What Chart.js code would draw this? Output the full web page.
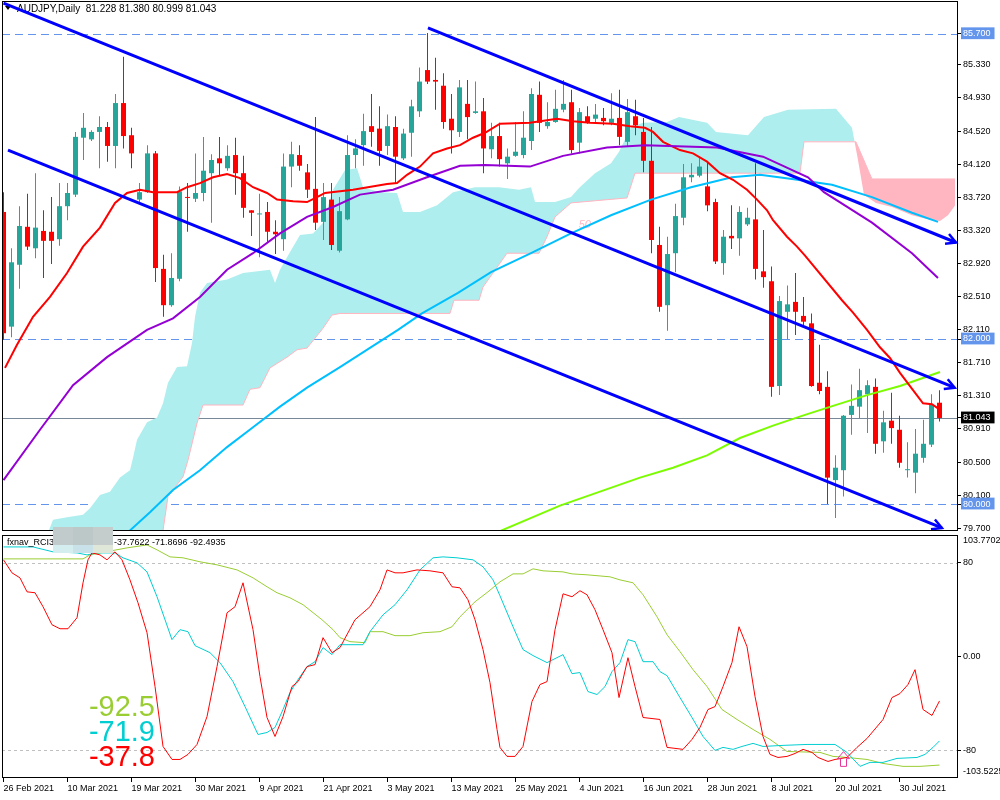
<!DOCTYPE html>
<html lang="en">
<head>
    <meta charset="UTF-8">
    <title>AUDJPY,Daily</title>
    <script src="https://cdn.jsdelivr.net/npm/chart.js"></script>
    <style>
        body {
            margin: 0;
            background: #fff;
        }

        #wrap {
            position: relative;
            width: 1000px;
            height: 800px;
            overflow: hidden;
            background: #fff;
        }

        #mainBox, #subBox {
            position: absolute;
            left: 0;
            width: 1000px;
        }

        #mainBox { top: 0; height: 532px; }
        #subBox { top: 532px; height: 268px; }

        /* grey patch over the indicator name, as in the screenshot */
        #mask {
            position: absolute;
            left: 53px;
            top: 527px;
            width: 60px;
            height: 26px;
            display: flex;
        }

        #mask div { flex: 1; }
        #mask .c1 { background: linear-gradient(#c2cbcb 0 70%, #d4eef0 70%); }
        #mask .c2 { background: linear-gradient(#bcc7c7 0 70%, #c9e1e8 70%); }
        #mask .c3 { background: linear-gradient(#c4cccc 0 70%, #dfe8d8 70%); }
    </style>
</head>
<body>
<div id="wrap">
    <div id="mainBox"><canvas id="main" width="1000" height="532"></canvas></div>
    <div id="subBox"><canvas id="sub" width="1000" height="268"></canvas></div>
    <div id="mask"><div class="c1"></div><div class="c2"></div><div class="c3"></div></div>
</div>

<script>
    // ---- data (bar index 0 = 26 Feb 2021) ----
    const symbolName = 'AUDJPY,Daily';
    const tickLabels = ['26 Feb 2021', '10 Mar 2021', '19 Mar 2021', '30 Mar 2021', '9 Apr 2021', '21 Apr 2021',
        '3 May 2021', '13 May 2021', '25 May 2021', '4 Jun 2021', '16 Jun 2021', '28 Jun 2021', '8 Jul 2021',
        '20 Jul 2021', '30 Jul 2021'];
    const barsPerLabel = 8;

    const opens = [83.54, 82.15, 82.90, 83.36, 83.10, 83.31, 83.30, 83.21, 83.61, 83.75,
        84.44, 84.42, 84.51, 84.57, 84.34, 84.86, 84.47, 83.69, 83.78, 84.25,
        82.85, 82.41, 82.73, 83.72, 83.70, 83.77, 84.01, 84.19, 84.07, 84.23,
        84.01, 83.56, 83.51, 83.54, 83.30, 83.21, 84.09, 84.23, 84.02, 83.82,
        83.42, 83.69, 83.07, 83.45, 84.23, 84.35, 84.58, 84.55, 84.34, 84.57,
        84.19, 84.50, 84.76, 85.26, 85.14, 85.07, 84.67, 84.51, 84.85, 84.74,
        84.76, 84.30, 84.46, 84.13, 84.22, 84.23, 84.40, 84.96, 84.58, 84.63,
        84.78, 84.87, 84.38, 84.70, 84.67, 84.68, 84.62, 84.68, 84.39, 84.70,
        84.51, 84.16, 83.14, 82.41, 83.04, 83.47, 83.96, 83.98, 83.85, 83.66,
        82.92, 83.25, 83.22, 83.39, 83.45, 82.82, 82.70, 81.43, 82.33, 82.45,
        82.28, 82.19, 81.47, 81.42, 80.29, 80.41, 81.08, 81.18, 81.33, 81.42,
        80.76, 81.01, 80.90, 80.41, 80.38, 80.56, 80.72, 81.228];
    const highs = [83.78, 83.10, 83.61, 83.76, 84.01, 83.56, 83.72, 83.89, 83.89, 84.51,
        84.74, 84.53, 84.70, 84.63, 84.97, 85.42, 84.56, 83.89, 84.35, 84.28,
        83.02, 83.04, 83.85, 83.89, 84.25, 84.45, 84.24, 84.45, 84.35, 84.44,
        84.22, 83.56, 83.76, 83.66, 83.44, 84.25, 84.39, 84.35, 84.12, 84.69,
        83.89, 83.89, 83.72, 84.47, 84.42, 84.73, 84.97, 84.82, 84.72, 84.70,
        84.55, 84.90, 85.29, 85.71, 85.41, 85.22, 84.97, 85.14, 85.14, 85.12,
        84.92, 84.62, 84.62, 84.31, 84.63, 84.76, 85.04, 85.12, 84.87, 85.02,
        85.14, 85.02, 84.80, 84.82, 84.85, 84.80, 84.98, 85.02, 84.91, 84.90,
        84.68, 84.57, 83.36, 83.24, 83.64, 84.12, 84.13, 84.21, 84.15, 83.70,
        83.32, 83.62, 83.61, 83.59, 84.13, 83.32, 82.88, 82.52, 82.65, 82.80,
        82.51, 82.31, 81.93, 81.61, 80.59, 81.08, 81.45, 81.64, 81.50, 81.52,
        81.13, 81.35, 81.07, 80.75, 80.91, 81.02, 81.33, 81.380];
    const lows = [81.99, 82.02, 82.61, 83.08, 82.98, 82.74, 82.91, 83.13, 83.44, 83.72,
        84.17, 84.40, 84.07, 84.15, 84.07, 84.31, 84.07, 83.66, 83.77, 82.69,
        82.27, 82.39, 82.70, 83.30, 83.66, 83.67, 83.41, 83.98, 84.04, 83.75,
        83.47, 83.25, 82.99, 83.18, 83.03, 83.07, 83.84, 84.04, 83.71, 83.32,
        83.20, 83.08, 83.05, 83.44, 84.07, 84.10, 84.33, 84.10, 84.23, 83.89,
        84.17, 84.21, 84.69, 85.09, 84.78, 84.55, 84.25, 84.45, 84.42, 84.73,
        84.01, 84.19, 84.09, 83.94, 84.21, 84.19, 84.29, 84.51, 84.55, 84.62,
        84.75, 84.25, 84.25, 84.61, 84.62, 84.59, 84.59, 84.35, 84.33, 84.47,
        84.02, 83.04, 82.33, 82.10, 82.81, 83.38, 83.90, 83.96, 83.55, 82.91,
        82.78, 83.09, 83.01, 83.37, 82.72, 82.62, 81.30, 81.32, 82.00, 82.05,
        82.17, 81.42, 81.33, 80.00, 79.83, 80.09, 80.84, 81.04, 80.86, 80.61,
        80.62, 80.73, 80.44, 80.32, 80.13, 80.50, 80.69, 80.999];
    const closes = [82.07, 82.93, 83.37, 83.12, 83.35, 83.19, 83.19, 83.61, 83.77, 84.45,
        84.56, 84.51, 84.57, 84.34, 84.86, 84.46, 84.25, 83.78, 84.25, 82.86,
        82.41, 82.74, 83.79, 83.71, 83.77, 84.04, 84.17, 84.13, 84.22, 84.01,
        83.59, 83.53, 83.52, 83.30, 83.27, 84.09, 84.24, 84.10, 83.81, 83.41,
        83.72, 83.14, 83.55, 84.23, 84.31, 84.52, 84.51, 84.28, 84.58, 84.21,
        84.49, 84.82, 85.12, 85.12, 85.12, 84.63, 84.53, 85.05, 84.69, 84.76,
        84.31, 84.46, 84.18, 84.21, 84.27, 84.44, 84.97, 84.62, 84.63, 84.79,
        84.85, 84.29, 84.75, 84.62, 84.72, 84.64, 84.67, 84.45, 84.75, 84.59,
        84.16, 83.20, 82.39, 83.03, 83.49, 83.96, 83.99, 84.09, 83.62, 82.94,
        83.24, 83.22, 83.54, 83.47, 82.85, 82.75, 81.42, 82.46, 82.42, 82.33,
        82.21, 81.43, 81.37, 80.32, 80.44, 81.07, 81.19, 81.38, 81.44, 80.73,
        80.99, 80.92, 80.50, 80.42, 80.61, 80.73, 81.20, 81.043];

    // moving averages, [bar index, price]
    const maRed = [[0.19, 81.65], [1.69, 81.93], [3.69, 82.27], [5.81, 82.51], [7.94, 82.80], [9.94, 83.12],
        [12.06, 83.35], [13.94, 83.65], [15.44, 83.77], [17.06, 83.81], [18.69, 83.78], [21.69, 83.78],
        [22.94, 83.84], [24.56, 83.89], [26.19, 83.96], [27.94, 84.00], [29.56, 83.95], [31.19, 83.84],
        [32.94, 83.77], [34.19, 83.69], [36.19, 83.67], [37.94, 83.66], [39.19, 83.72], [40.19, 83.77],
        [43.69, 83.81], [47.94, 83.88], [49.19, 83.89], [50.44, 83.99], [52.06, 84.09], [53.69, 84.25],
        [55.44, 84.31], [57.06, 84.35], [58.69, 84.44], [60.19, 84.50], [62.06, 84.61], [65.81, 84.62],
        [69.19, 84.67], [71.19, 84.64], [73.31, 84.62], [76.19, 84.61], [78.31, 84.58], [80.19, 84.56],
        [81.19, 84.51], [82.44, 84.39], [84.56, 84.29], [86.19, 84.25], [87.94, 84.15], [89.56, 84.01],
        [91.19, 83.93], [92.94, 83.81], [94.19, 83.69], [95.44, 83.56], [96.19, 83.44], [97.94, 83.24],
        [99.19, 83.12], [100.19, 83.01], [104.81, 82.47], [106.19, 82.32], [107.94, 82.11], [109.56, 81.90],
        [110.81, 81.77], [112.06, 81.59], [113.69, 81.38], [114.94, 81.22], [116.06, 81.21], [116.81, 81.16]];
    const maPurple = [[0, 80.29], [4.56, 80.90], [8.69, 81.44], [12.94, 81.78], [17.94, 82.11], [21.19, 82.25],
        [24.56, 82.51], [27.94, 82.84], [31.19, 83.04], [34.56, 83.28], [37.94, 83.48], [41.19, 83.60],
        [44.56, 83.75], [48.69, 83.81], [52.94, 83.96], [57.06, 84.10], [60.19, 84.11], [65.81, 84.09],
        [69.94, 84.22], [75.44, 84.32], [80.19, 84.35], [89.19, 84.32], [94.94, 84.21], [100.56, 83.96],
        [102.56, 83.78], [108.56, 83.41], [113.56, 83.04], [116.81, 82.74]];
    const maBlue = [[12.06, 79.36], [15.81, 79.68], [18.31, 79.90], [21.19, 80.17], [24.56, 80.41], [27.94, 80.69],
        [31.19, 80.93], [34.56, 81.18], [37.94, 81.41], [42.06, 81.66], [49.31, 82.11], [52.31, 82.31],
        [56.81, 82.56], [60.94, 82.81], [65.94, 83.04], [70.94, 83.28], [75.94, 83.50], [80.94, 83.69],
        [85.94, 83.84], [91.06, 83.96], [94.56, 83.99], [98.56, 83.94], [103.56, 83.87], [108.56, 83.72],
        [113.56, 83.53], [116.81, 83.42]];
    const maGreen = [[60.81, 79.62], [69.56, 79.98], [74.56, 80.15], [79.56, 80.32], [83.69, 80.44], [87.94, 80.59],
        [92.06, 80.80], [96.19, 80.95], [100.19, 81.08], [103.69, 81.19], [107.94, 81.32], [112.06, 81.43],
        [117.06, 81.60]];

    // ichimoku cloud edges
    const spanA = [[5.19, 79.56], [6.19, 79.81], [7.94, 79.84], [9.94, 79.87], [10.81, 79.95], [12.06, 80.11],
        [13.31, 80.15], [14.56, 80.32], [15.81, 80.41], [16.19, 80.56], [16.69, 80.78], [17.94, 80.99],
        [19.19, 81.05], [19.94, 81.22], [20.56, 81.47], [21.69, 81.66], [22.94, 81.67], [23.56, 81.95],
        [23.94, 82.27], [24.56, 82.56], [25.44, 82.68], [27.94, 82.72], [29.94, 82.80], [33.31, 82.84],
        [33.94, 82.68], [34.56, 82.84], [35.44, 82.99], [37.06, 83.26], [38.69, 83.28], [39.94, 83.41],
        [41.19, 83.81], [42.69, 84.05], [44.19, 84.07], [44.94, 83.84], [47.06, 83.78], [49.19, 83.77],
        [49.94, 83.54], [52.06, 83.54], [54.19, 83.62], [56.19, 83.78], [58.94, 83.84], [61.94, 83.84],
        [64.44, 83.81], [65.94, 83.84], [66.44, 83.66], [68.94, 83.66], [70.94, 83.72], [71.94, 83.83],
        [73.94, 84.01], [75.94, 84.13], [76.94, 84.27], [78.44, 84.57], [79.94, 84.62], [82.94, 84.63],
        [84.44, 84.69], [87.94, 84.62], [89.06, 84.51], [93.06, 84.47], [95.06, 84.69], [98.06, 84.78],
        [104.06, 84.79], [106.06, 84.56], [106.81, 84.17], [107.56, 83.75], [109.06, 83.65], [111.06, 83.60],
        [113.56, 83.50], [116.06, 83.44], [117.06, 83.43], [118.06, 83.50], [118.94, 83.62]];
    const spanB = [[5.19, 78.84], [12.06, 79.08], [18.31, 79.32], [19.94, 79.68], [20.56, 80.09], [22.44, 80.33],
        [23.06, 80.53], [24.19, 80.98], [24.94, 81.20], [29.94, 81.20], [30.81, 81.39], [32.06, 81.41],
        [33.31, 81.65], [35.44, 81.78], [36.69, 81.87], [37.94, 81.89], [39.94, 82.13], [41.06, 82.29],
        [42.06, 82.31], [55.81, 82.31], [56.31, 82.47], [59.44, 82.47], [59.94, 82.63], [62.94, 83.04],
        [66.94, 83.04], [67.94, 83.24], [68.94, 83.48], [70.94, 83.65], [77.94, 83.71], [78.94, 84.01],
        [99.56, 84.01], [100.06, 84.39], [106.56, 84.39], [108.56, 83.94], [118.94, 83.94]];

    // hand drawn trend lines
    const channelUpper = [[0, 86.07], [118.9, 81.41]];
    const channelLower = [[0.56, 84.29], [117.3, 79.71]];
    const channelTop = [[53.06, 85.77], [119.06, 83.17]];

    // price axis
    const priceTicks = [85.330, 84.930, 84.520, 84.120, 83.720, 83.320, 82.920, 82.510, 82.110, 81.710,
        81.310, 80.910, 80.500, 80.100, 79.700];
    const priceLevels = [85.700, 82.000, 80.000];
    const priceMin = 79.673, priceMax = 86.097;

    // RCI sub window, [bar index, value]
    const rciShort = [[0, 82.6], [1.06, 71.5], [2.06, 67.2], [2.94, 55.3], [3.94, 54.5], [4.94, 42.6], [6.06, 27.2],
        [7.06, 23.8], [8.06, 23.8], [9.19, 33.2], [9.94, 63.0], [10.56, 82.6], [11.06, 88.5], [12.06, 86.8],
        [12.94, 82.6], [13.94, 89.4], [14.81, 82.6], [15.81, 65.5], [16.81, 46.0], [17.94, 20.4], [18.94, -25.5],
        [19.94, -76.6], [21.06, -87.7], [22.06, -87.7], [23.06, -83.4], [24.19, -74.9], [25.44, -51.1],
        [26.69, -8.5], [27.94, 37.4], [28.94, 42.6], [29.94, 63.0], [31.19, 23.0], [32.06, -17.0], [32.94, -51.9],
        [33.94, -68.1], [34.94, -51.1], [36.06, -25.5], [36.81, -21.3], [37.94, -8.5], [38.94, -6.8], [39.94, 16.2],
        [41.06, 3.4], [42.06, 7.7], [43.94, 31.5], [45.81, 42.6], [47.06, 57.0], [47.94, 74.0], [48.94, 71.5],
        [49.94, 71.5], [51.69, 74.0], [53.31, 73.2], [54.94, 71.5], [56.06, 59.6], [57.06, 58.7], [58.06, 48.5],
        [58.94, 31.5], [59.94, 6.0], [60.81, -22.1], [61.69, -62.1], [62.06, -77.4], [62.94, -85.1], [63.94, -85.1],
        [64.94, -76.6], [66.06, -38.3], [67.06, -23.8], [67.94, -21.3], [68.94, 23.0], [69.94, 53.6], [71.06, 51.1],
        [72.06, 56.2], [72.94, 52.8], [73.94, 40.0], [74.94, 23.0], [76.06, 3.4], [76.94, -34.9], [78.06, -0.9],
        [78.94, -25.5], [79.94, -51.9], [82.06, -53.6], [82.94, -77.4], [84.94, -79.1], [86.06, -70.6],
        [87.06, -60.4], [88.06, -45.1], [88.94, -42.6], [89.94, -25.5], [91.06, -5.1], [91.94, 25.5], [92.94, 8.5],
        [93.94, -34.0], [94.94, -68.1], [95.81, -83.4], [96.81, -86.0], [97.94, -85.1], [98.94, -82.6],
        [99.94, -79.1], [101.06, -81.7], [101.81, -86.0], [103.06, -89.4], [103.94, -87.7], [105.44, -86.0],
        [106.69, -77.4], [107.94, -69.8], [109.94, -53.6], [111.06, -34.9], [112.06, -31.5], [113.06, -23.8],
        [113.94, -11.1], [114.94, -45.1], [116.06, -50.2], [117, -37.7622]];
    const rciMid = [[0, 93.6], [3.69, 93.6], [6.19, 89.4], [9.19, 88.5], [10.44, 86.8], [11.69, 88.5], [13.94, 88.5],
        [14.94, 84.3], [16.69, 80.0], [17.94, 72.3], [19.19, 51.1], [21.06, 14.5], [22.06, 23.0], [23.06, 21.3],
        [23.94, 9.4], [25.81, 3.4], [27.06, -5.1], [28.69, -21.3], [30.19, -42.6], [31.81, -66.4], [32.94, -64.7],
        [33.94, -60.4], [34.94, -45.1], [35.81, -30.6], [36.81, -19.6], [37.94, -8.5], [38.94, -4.3], [39.94, 7.7],
        [41.06, 1.7], [42.06, 10.2], [44.94, 10.2], [45.81, 21.3], [47.44, 35.7], [48.94, 44.3], [50.44, 57.0],
        [52.06, 74.0], [53.69, 84.3], [54.94, 85.1], [56.69, 84.3], [58.69, 82.6], [59.94, 76.6], [61.19, 65.5],
        [62.06, 51.9], [63.69, 25.5], [64.94, 6.0], [66.19, 0.9], [67.94, -5.1], [69.94, 1.7], [71.06, -14.5],
        [72.06, -13.6], [73.06, -29.8], [74.19, -32.3], [75.19, -25.5], [76.06, -12.8], [77.06, -5.1],
        [78.06, 14.5], [78.94, 12.8], [79.94, -4.3], [81.19, -4.3], [82.06, -12.8], [82.94, -16.2], [84.56, -34.9],
        [86.06, -51.9], [87.44, -68.1], [88.94, -80.0], [89.94, -77.4], [91.19, -79.1], [92.31, -76.6],
        [93.69, -74.0], [94.94, -76.6], [97.44, -75.7], [100.44, -74.9], [103.94, -74.9], [105.44, -81.7],
        [107.06, -93.6], [108.31, -90.2], [109.94, -90.2], [111.69, -86.8], [114.19, -86.0], [115.19, -83.4],
        [116.19, -77.4], [117, -71.8696]];
    const rciLong = [[0, 83.4], [9.94, 83.4], [10.81, 86.8], [12.06, 88.5], [15.44, 92.8], [17.94, 95.3],
        [19.19, 91.1], [20.81, 85.1], [22.44, 84.3], [24.56, 80.9], [26.69, 78.3], [29.19, 74.0], [31.19, 67.2],
        [32.94, 59.6], [34.19, 54.5], [35.81, 50.2], [37.44, 44.3], [39.81, 31.5], [41.19, 23.0], [42.06, 16.2],
        [43.31, 12.8], [45.19, 11.9], [45.81, 21.3], [47.44, 21.3], [48.94, 17.9], [50.81, 17.9], [52.44, 20.4],
        [54.56, 21.3], [56.06, 25.5], [57.06, 34.0], [58.94, 46.8], [60.56, 55.3], [62.06, 63.8], [63.69, 70.6],
        [64.94, 70.6], [66.19, 74.9], [67.44, 73.2], [69.94, 72.3], [71.06, 70.6], [72.94, 69.8], [75.81, 68.1],
        [77.06, 65.5], [78.69, 63.0], [79.94, 52.8], [81.69, 34.0], [82.94, 18.7], [84.56, 4.3], [86.19, -11.1],
        [87.94, -25.5], [89.81, -45.1], [91.69, -53.6], [93.69, -62.1], [95.81, -70.6], [97.94, -80.9],
        [102.06, -81.7], [103.69, -85.1], [105.44, -86.0], [107.94, -87.7], [109.94, -91.1], [112.44, -93.6],
        [114.56, -93.6], [117, -92.4935]];
    const rciTicks = [80, 0, -80];
    const rciMin = -103.5225, rciMax = 103.7702;
    const signalArrow = { x: 104.9, tip: -81, base: -93.6 };

    // ---- styles ----
    const TEAL = '#26a69a', RED = '#ff0000';
    const LEVEL_BLUE = '#6495ed';
    const xMin = -0.1875, xMax = 119.3125;

    Chart.defaults.font.family = '"Liberation Sans", Arial, sans-serif';
    Chart.defaults.font.size = 9;
    Chart.defaults.color = '#000';

    const pts = arr => arr.map(p => ({ x: p[0], y: p[1] }));
    const candleColor = ctx => (closes[ctx.dataIndex] >= opens[ctx.dataIndex] ? TEAL : RED);
    const lastPrice = closes[closes.length - 1];
    const isLevel = v => priceLevels.includes(v);

    function lineSet(data, color, width, order, extra) {
        return Object.assign({
            type: 'line', data: pts(data), borderColor: color, borderWidth: width,
            pointRadius: 0, tension: 0, fill: false, order: order
        }, extra || {});
    }

    function drawFrame(ctx, a) {
        ctx.save();
        ctx.strokeStyle = '#000';
        ctx.lineWidth = 1;
        ctx.strokeRect(a.left + 0.5, a.top + 0.5, a.right - a.left - 1, a.bottom - a.top - 1);
        ctx.restore();
    }

    // levels, title, arrow heads, frame for the price window
    const mainDecor = {
        id: 'mainDecor',
        beforeDatasetsDraw(chart) {
            const { ctx, chartArea: a, scales: { x, y } } = chart;
            ctx.save();
            ctx.lineWidth = 1;
            ctx.strokeStyle = LEVEL_BLUE;
            ctx.setLineDash([8, 5]);
            priceLevels.forEach(v => {
                const py = Math.round(y.getPixelForValue(v)) + 0.5;
                ctx.beginPath(); ctx.moveTo(a.left, py); ctx.lineTo(a.right, py); ctx.stroke();
            });
            ctx.setLineDash([]);
            ctx.strokeStyle = '#778899';
            const by = Math.round(y.getPixelForValue(lastPrice)) + 0.5;
            ctx.beginPath(); ctx.moveTo(a.left, by); ctx.lineTo(a.right, by); ctx.stroke();

            // small "50" label left by the indicator
            ctx.fillStyle = '#ffb6c1';
            ctx.font = 'italic 11px "Liberation Sans", Arial';
            ctx.textBaseline = 'middle';
            ctx.fillText('50', x.getPixelForValue(71.9), y.getPixelForValue(83.38));

            // title
            ctx.fillStyle = '#000';
            ctx.beginPath(); ctx.moveTo(5, 6); ctx.lineTo(11, 6); ctx.lineTo(8, 10); ctx.closePath(); ctx.fill();
            ctx.font = '10px "Liberation Sans", Arial';
            const ohlc = [opens, highs, lows, closes].map(a => a[a.length - 1].toFixed(3)).join(' ');
            ctx.fillText(symbolName + '  ' + ohlc, 17, 9);
            ctx.restore();
        },
        afterDatasetsDraw(chart) {
            const { ctx } = chart;
            ctx.save();
            chart.data.datasets.forEach((ds, i) => {
                if (!ds.arrow) return;
                const el = chart.getDatasetMeta(i).data;
                const p1 = el[el.length - 2], p2 = el[el.length - 1];
                const ang = Math.atan2(p2.y - p1.y, p2.x - p1.x);
                ctx.strokeStyle = ds.borderColor;
                ctx.lineWidth = 2.5;
                ctx.beginPath();
                ctx.moveTo(p2.x - 11 * Math.cos(ang - 0.5), p2.y - 11 * Math.sin(ang - 0.5));
                ctx.lineTo(p2.x, p2.y);
                ctx.lineTo(p2.x - 11 * Math.cos(ang + 0.5), p2.y - 11 * Math.sin(ang + 0.5));
                ctx.stroke();
            });
            ctx.restore();
            drawFrame(ctx, chart.chartArea);
        }
    };

    new Chart(document.getElementById('main'), {
        type: 'bar',
        data: {
            datasets: [
                lineSet(spanA, 'rgba(0,0,0,0)', 0, 10, {
                    fill: { target: 1, above: '#afeeee', below: '#ffb6c1' }
                }),
                lineSet(spanB, '#ffb6c1', 1, 9),
                {
                    type: 'bar', data: lows.map((l, i) => ({ x: i, y: [l, highs[i]] })),
                    backgroundColor: candleColor, barThickness: 1, grouped: false, inflateAmount: 0, order: 6
                },
                {
                    type: 'bar', data: opens.map((o, i) => ({ x: i, y: [o, closes[i]] })),
                    backgroundColor: candleColor, barThickness: 5, minBarLength: 1, grouped: false,
                    inflateAmount: 0, order: 5
                },
                lineSet(maGreen, '#7cfc00', 2, 4),
                lineSet(maBlue, '#00bfff', 2, 4),
                lineSet(maPurple, '#9400d3', 2, 3),
                lineSet(maRed, '#ff0000', 2, 3),
                lineSet(channelUpper, '#0000ff', 3, 1, { arrow: true }),
                lineSet(channelLower, '#0000ff', 3, 1, { arrow: true }),
                lineSet(channelTop, '#0000ff', 3, 1, { arrow: true })
            ]
        },
        options: {
            responsive: false,
            animation: false,
            events: [],
            layout: { padding: { left: 2, top: 1, right: 0, bottom: 1 } },
            plugins: { legend: { display: false }, tooltip: { enabled: false } },
            scales: {
                x: { type: 'linear', display: false, min: xMin, max: xMax, offset: false },
                y: {
                    type: 'linear', position: 'right', min: priceMin, max: priceMax, beginAtZero: false,
                    afterFit: s => { s.width = 42; s.paddingTop = 0; s.paddingBottom = 0; },
                    afterBuildTicks: s => {
                        s.ticks = priceTicks.concat([lastPrice], priceLevels).map(v => ({ value: v }));
                    },
                    grid: { drawOnChartArea: false, tickLength: 3, color: '#000' },
                    border: { display: false },
                    ticks: {
                        autoSkip: false,
                        padding: 2,
                        callback: v => v.toFixed(3),
                        color: c => (isLevel(c.tick.value) || c.tick.value === lastPrice ? '#fff' : '#000'),
                        showLabelBackdrop: c => isLevel(c.tick.value) || c.tick.value === lastPrice,
                        backdropColor: c => (c.tick.value === lastPrice ? '#000' : LEVEL_BLUE),
                        backdropPadding: { top: 1, bottom: 0, left: 2, right: 4 }
                    }
                }
            }
        },
        plugins: [mainDecor]
    });

    // RCI window
    const subDecor = {
        id: 'subDecor',
        beforeDatasetsDraw(chart) {
            const { ctx, chartArea: a, scales: { y } } = chart;
            ctx.save();
            ctx.strokeStyle = '#c0c0c0';
            ctx.lineWidth = 1;
            ctx.setLineDash([3, 3]);
            [80, -80].forEach(v => {
                const py = Math.round(y.getPixelForValue(v)) + 0.5;
                ctx.beginPath(); ctx.moveTo(a.left, py); ctx.lineTo(a.right, py); ctx.stroke();
            });
            ctx.restore();
        },
        afterDatasetsDraw(chart) {
            const { ctx, chartArea: a, scales: { x, y } } = chart;
            const lasts = [rciShort, rciMid, rciLong].map(s => s[s.length - 1][1]);
            ctx.save();
            ctx.fillStyle = '#000';
            ctx.font = '9px "Liberation Sans", Arial';
            ctx.textBaseline = 'middle';
            ctx.fillText('fxnav_RCI3', 7, 11);
            ctx.fillText(lasts.map(v => v.toFixed(4)).join(' '), 114, 11);

            // big last values
            ctx.font = '29px "Liberation Sans", Arial';
            ctx.textAlign = 'right';
            ctx.textBaseline = 'alphabetic';
            [[lasts[2], '#9acd32', 184], [lasts[1], '#00ced1', 209], [lasts[0], '#ff0000', 234]].forEach(t => {
                ctx.fillStyle = t[1];
                ctx.fillText(t[0].toFixed(1), 155, t[2]);
            });

            // signal arrow
            const cx = Math.round(x.getPixelForValue(signalArrow.x)) + 0.5;
            const ty = y.getPixelForValue(signalArrow.tip), by = y.getPixelForValue(signalArrow.base);
            ctx.strokeStyle = '#e8359c';
            ctx.lineWidth = 1;
            ctx.beginPath();
            ctx.moveTo(cx, ty); ctx.lineTo(cx + 6, ty + 7); ctx.lineTo(cx + 3, ty + 7); ctx.lineTo(cx + 3, by);
            ctx.lineTo(cx - 3, by); ctx.lineTo(cx - 3, ty + 7); ctx.lineTo(cx - 6, ty + 7); ctx.closePath();
            ctx.stroke();
            ctx.restore();
            drawFrame(ctx, a);
        },
        afterDraw(chart) {
            const { ctx, chartArea: a } = chart;
            ctx.save();
            ctx.fillStyle = '#000';
            ctx.font = '9px "Liberation Sans", Arial';
            ctx.textBaseline = 'middle';
            ctx.fillText(rciMax.toFixed(4), a.right + 5, a.top + 6);
            ctx.fillText(rciMin.toFixed(4), a.right + 5, a.bottom - 6);
            ctx.restore();
        }
    };

    new Chart(document.getElementById('sub'), {
        type: 'line',
        data: {
            datasets: [
                lineSet(rciShort, '#ff0000', 1, 1),
                lineSet(rciMid, '#00ced1', 1, 2),
                lineSet(rciLong, '#9acd32', 1, 3)
            ]
        },
        options: {
            responsive: false,
            animation: false,
            events: [],
            layout: { padding: { left: 2, top: 3, right: 0, bottom: 0 } },
            plugins: { legend: { display: false }, tooltip: { enabled: false } },
            scales: {
                x: {
                    type: 'linear', min: xMin, max: xMax, offset: false,
                    afterFit: s => { s.height = 22; s.paddingLeft = 0; s.paddingRight = 0; },
                    afterBuildTicks: s => { s.ticks = tickLabels.map((t, i) => ({ value: i * barsPerLabel })); },
                    grid: { drawOnChartArea: false, tickLength: 4, color: '#000' },
                    border: { display: false },
                    ticks: {
                        autoSkip: false, maxRotation: 0, minRotation: 0, align: 'start', padding: 1,
                        callback: (v, i) => tickLabels[i]
                    }
                },
                y: {
                    type: 'linear', position: 'right', min: rciMin, max: rciMax,
                    afterFit: s => { s.width = 42; s.paddingTop = 0; s.paddingBottom = 0; },
                    afterBuildTicks: s => { s.ticks = rciTicks.map(v => ({ value: v })); },
                    grid: { drawOnChartArea: false, tickLength: 3, color: '#000' },
                    border: { display: false },
                    ticks: { autoSkip: false, padding: 2, callback: v => (v === 0 ? '0.00' : String(v)) }
                }
            }
        },
        plugins: [subDecor]
    });
</script>
</body>
</html>
